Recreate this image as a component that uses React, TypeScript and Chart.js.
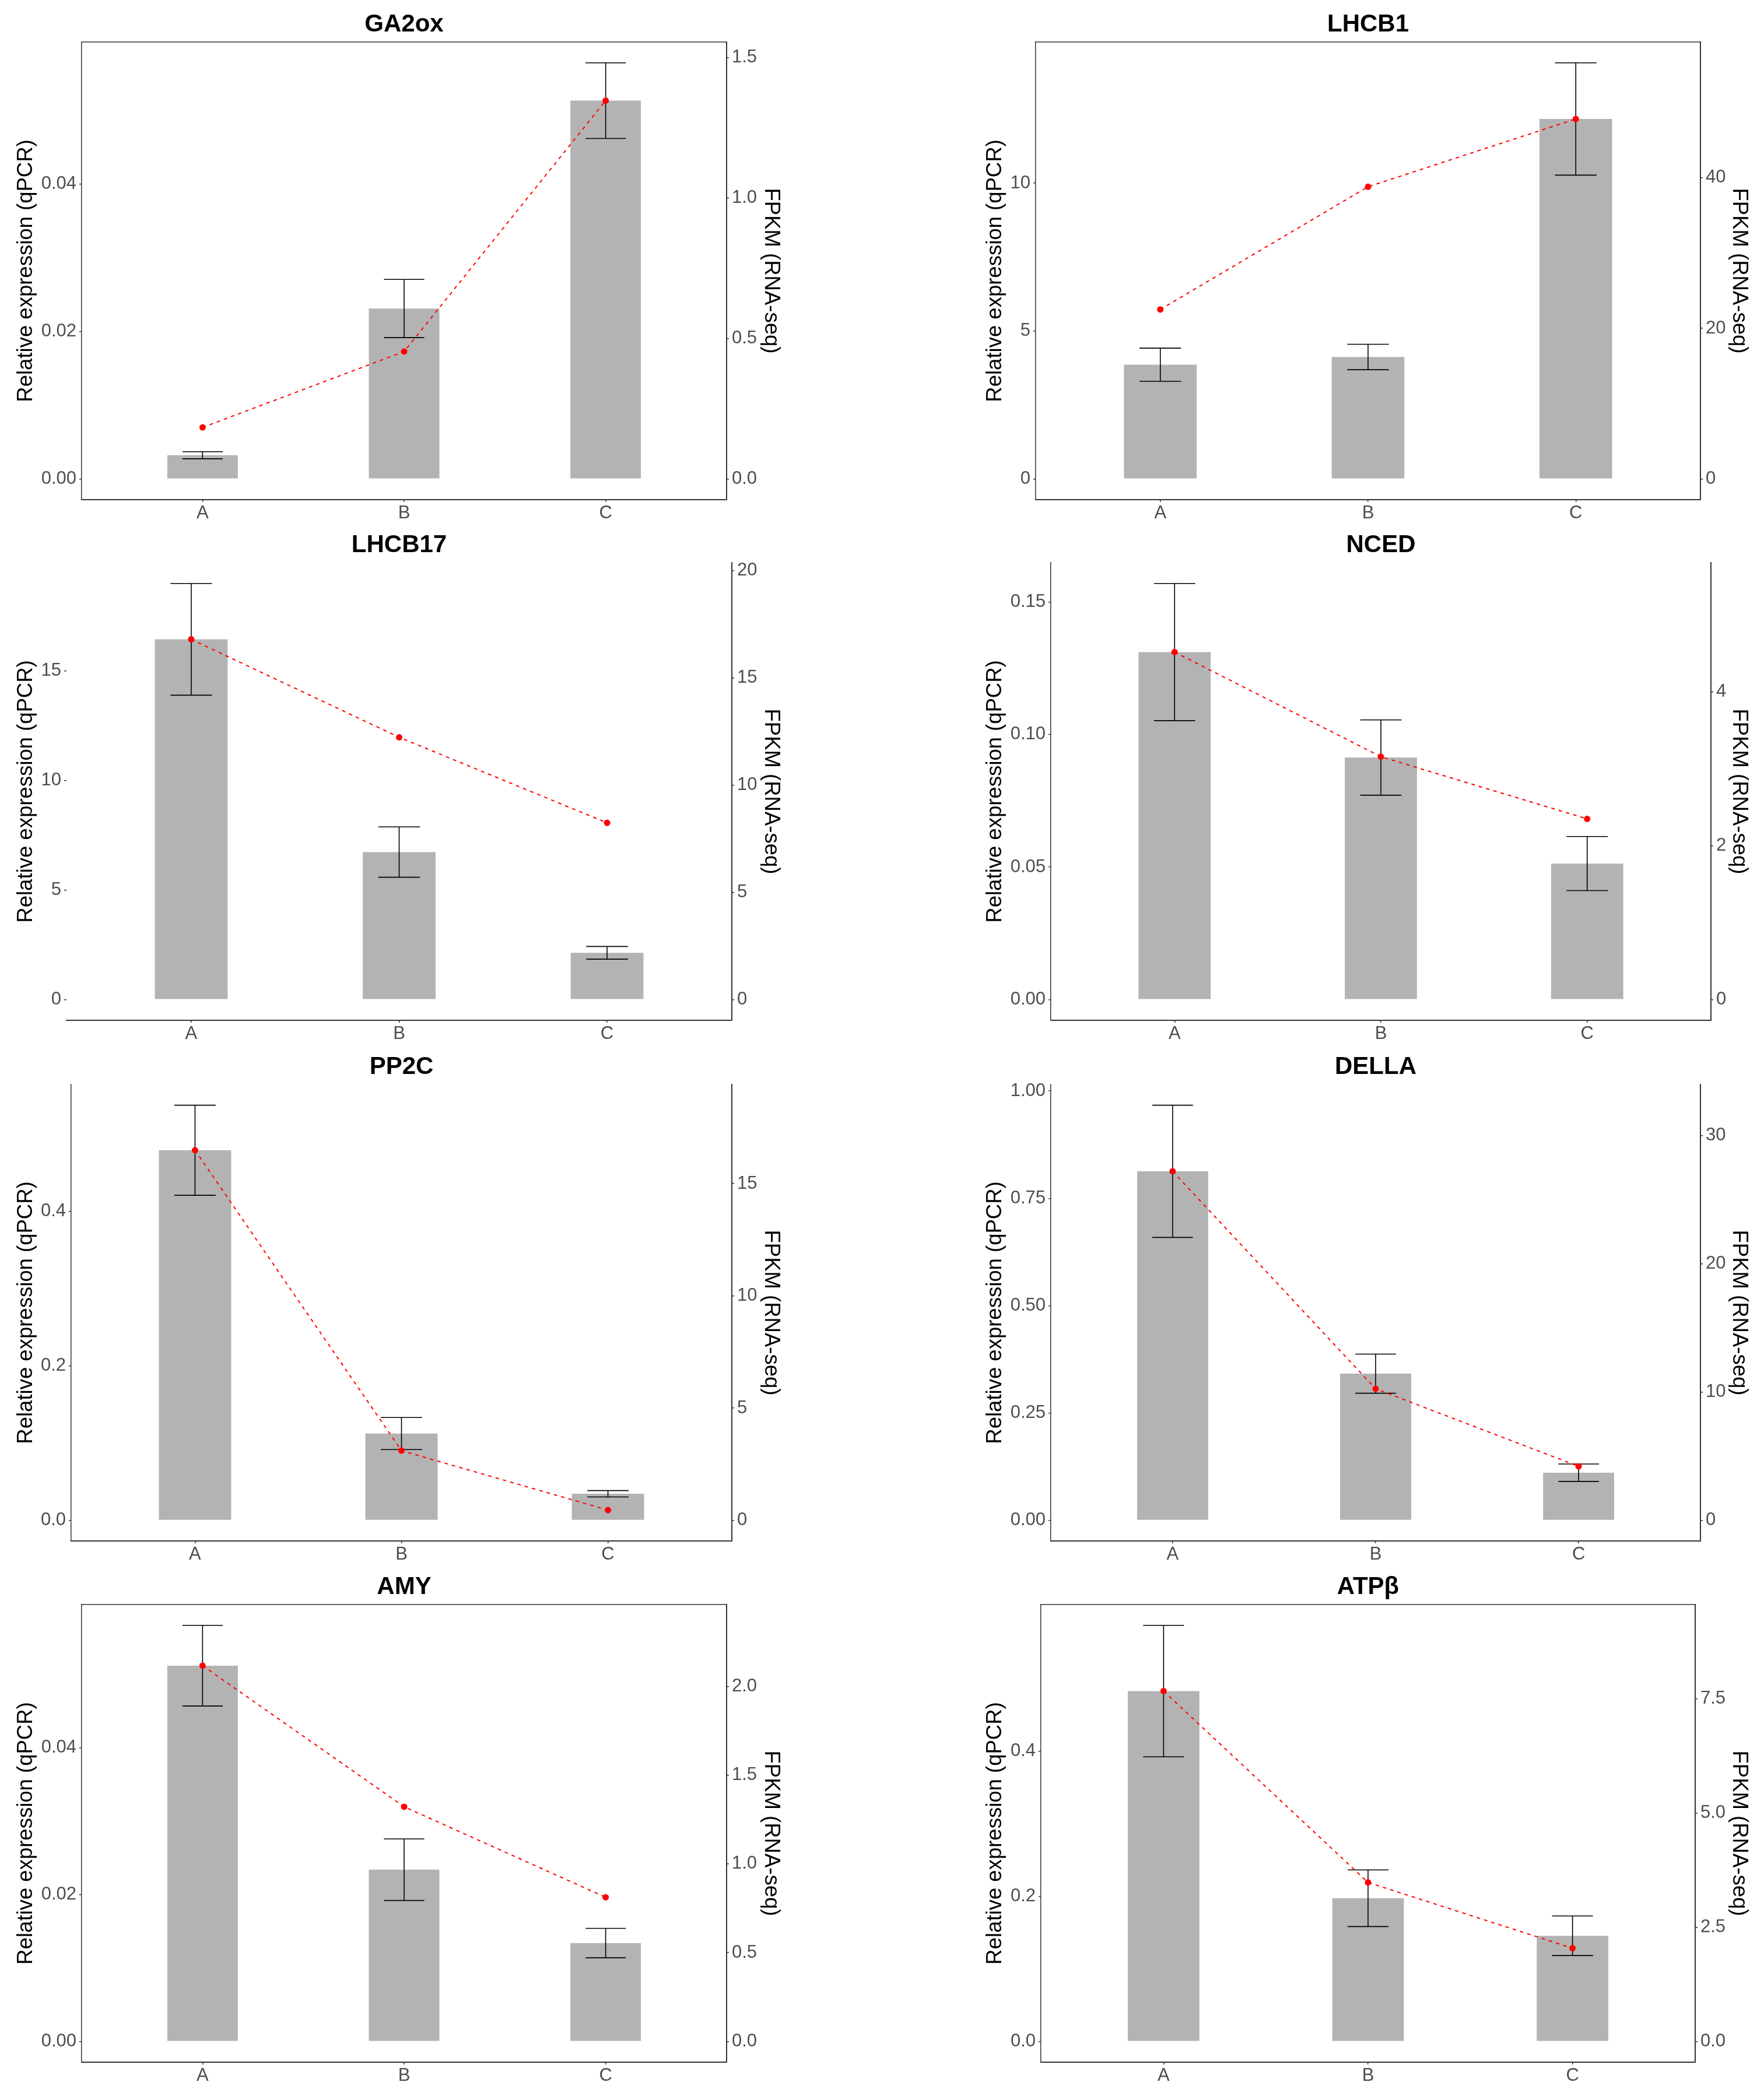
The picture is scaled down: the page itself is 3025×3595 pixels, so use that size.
import { useEffect, useRef } from 'react';
import { Chart, registerables } from 'chart.js';

Chart.register(...registerables);
Chart.defaults.font.family = '"Liberation Sans", Arial, sans-serif';

const categories = ['A', 'B', 'C'];
const genes = ['GA2ox', 'LHCB1', 'LHCB17', 'NCED', 'PP2C', 'DELLA', 'AMY', 'ATPβ'];

// qPCR relative expression (bars) and its SD (error bars), one row per gene
const qpcrMean = [
    [0.0032, 0.0231, 0.0513],
    [3.86, 4.12, 12.17],
    [16.44, 6.73, 2.13],
    [0.1311, 0.0913, 0.0513],
    [0.4789, 0.1122, 0.0342],
    [0.8129, 0.3414, 0.1107],
    [0.0512, 0.0234, 0.0134],
    [0.4826, 0.1972, 0.1455],
];
const qpcrSd = [
    [0.00048, 0.00395, 0.00513],
    [0.56, 0.43, 1.9],
    [2.55, 1.15, 0.29],
    [0.0259, 0.0142, 0.0102],
    [0.0583, 0.0208, 0.0041],
    [0.154, 0.0456, 0.0203],
    [0.0055, 0.0042, 0.002],
    [0.0906, 0.039, 0.0273],
];
// RNA-seq FPKM (red dashed line, right axis)
const fpkm = [
    [0.183, 0.453, 1.346],
    [22.5, 38.8, 47.8],
    [16.8, 12.23, 8.24],
    [4.517, 3.157, 2.348],
    [16.49, 3.1, 0.45],
    [27.21, 10.25, 4.2],
    [2.117, 1.322, 0.812],
    [7.67, 3.48, 2.04],
];
const leftTicks = [
    [0, 0.02, 0.04],
    [0, 5, 10],
    [0, 5, 10, 15],
    [0, 0.05, 0.1, 0.15],
    [0, 0.2, 0.4],
    [0, 0.25, 0.5, 0.75, 1],
    [0, 0.02, 0.04],
    [0, 0.2, 0.4],
];
const rightTicks = [
    [0, 0.5, 1, 1.5],
    [0, 20, 40],
    [0, 5, 10, 15, 20],
    [0, 2, 4],
    [0, 5, 10, 15],
    [0, 10, 20, 30],
    [0, 0.5, 1, 1.5, 2],
    [0, 2.5, 5, 7.5],
];
const leftDigits = [2, 0, 0, 2, 1, 2, 2, 1];
const rightDigits = [1, 0, 0, 0, 0, 0, 1, 1];

// page layout (px)
const colX = [0, 1512];
const colW = [1512, 1513];
const rowY = [0, 893, 1788, 2680];
const rowH = [893, 895, 892, 915];
const plotBottom = [857, 857, 855, 857];
const plotLeft = [140, 264, 114, 290, 122, 290, 140, 273];
const plotRight = [1246, 1404, 1255, 1422, 1255, 1404, 1246, 1395];
const leftLine = [true, true, false, true, true, true, true, true];
const topLine = [true, true, false, false, false, false, true, true];

const axisColor = '#333333';
const tickColor = '#4D4D4D';

function GenePanel({ index }: { index: number }) {
    const chartRef = useRef<HTMLCanvasElement>(null);
    const col = index % 2;
    const row = Math.floor(index / 2);
    const w = colW[col];
    const h = rowH[row];

    useEffect(() => {
        if (!chartRef.current) return;
        const means = qpcrMean[index];
        const sds = qpcrSd[index];
        const seq = fpkm[index];

        // ggplot-like 5% expansion around the bars + error bars
        const upper = Math.max(...means.map((m, i) => m + sds[i]));
        const yMin = -0.05 * upper;
        const yMax = 1.05 * upper;
        // secondary axis: highest FPKM point sits on the highest bar
        const factor = Math.max(...seq) / Math.max(...means);

        const errorBars = {
            id: 'errorBars',
            afterDatasetDraw(chart: any, args: any) {
                if (args.meta.type !== 'bar') return;
                const { ctx } = chart;
                const x = chart.scales.x;
                const y = chart.scales.y;
                ctx.save();
                ctx.strokeStyle = '#000000';
                ctx.lineWidth = 1.6;
                means.forEach((m, i) => {
                    const cx = x.getPixelForValue(i + 1);
                    const half = x.getPixelForValue(i + 1.1) - cx;
                    const top = y.getPixelForValue(m + sds[i]);
                    const bot = y.getPixelForValue(m - sds[i]);
                    ctx.beginPath();
                    ctx.moveTo(cx, top);
                    ctx.lineTo(cx, bot);
                    ctx.moveTo(cx - half, top);
                    ctx.lineTo(cx + half, top);
                    ctx.moveTo(cx - half, bot);
                    ctx.lineTo(cx + half, bot);
                    ctx.stroke();
                });
                ctx.restore();
            },
        };

        const panelTop = {
            id: 'panelTop',
            afterDraw(chart: any) {
                if (!topLine[index]) return;
                const { ctx, chartArea } = chart;
                ctx.save();
                ctx.strokeStyle = axisColor;
                ctx.lineWidth = 1.5;
                ctx.beginPath();
                ctx.moveTo(chartArea.left, chartArea.top);
                ctx.lineTo(chartArea.right, chartArea.top);
                ctx.stroke();
                ctx.restore();
            },
        };

        const tickGrid = {
            display: true,
            drawOnChartArea: false,
            drawTicks: true,
            tickLength: 4,
            color: axisColor,
            tickColor: axisColor,
            lineWidth: 1.5,
        };
        const tickFont = { size: 31 };

        const chart = new Chart(chartRef.current, {
            type: 'bar',
            data: {
                datasets: [
                    {
                        type: 'line',
                        label: 'FPKM (RNA-seq)',
                        data: seq.map((v, i) => ({ x: i + 1, y: v })),
                        yAxisID: 'y2',
                        order: 1,
                        borderColor: '#FF0000',
                        borderWidth: 2,
                        borderDash: [6, 7],
                        pointRadius: 5.5,
                        pointBackgroundColor: '#FF0000',
                        pointBorderWidth: 0,
                        fill: false,
                        tension: 0,
                    } as any,
                    {
                        type: 'bar',
                        label: 'Relative expression (qPCR)',
                        data: means.map((v, i) => ({ x: i + 1, y: v })),
                        yAxisID: 'y',
                        order: 2,
                        backgroundColor: '#B3B3B3',
                        borderWidth: 0,
                        barPercentage: 0.35,
                        categoryPercentage: 1,
                    } as any,
                ],
            },
            options: {
                responsive: true,
                maintainAspectRatio: false,
                animation: false,
                layout: { padding: 0 },
                plugins: {
                    legend: { display: false },
                    tooltip: { enabled: false },
                    title: {
                        display: true,
                        text: genes[index],
                        fullSize: false,
                        color: '#000000',
                        font: { size: 42, weight: 'bold' },
                        padding: { top: 16.8, bottom: 4.8 },
                    },
                },
                scales: {
                    x: {
                        type: 'linear',
                        min: 0.4,
                        max: 3.6,
                        offset: false,
                        afterBuildTicks: (s: any) => {
                            s.ticks = categories.map((_, i) => ({ value: i + 1 }));
                        },
                        afterFit: (s: any) => {
                            s.height = h - plotBottom[row];
                        },
                        ticks: {
                            callback: (v: any) => categories[Number(v) - 1],
                            color: tickColor,
                            font: tickFont,
                            padding: 1,
                            maxRotation: 0,
                            autoSkip: false,
                        },
                        grid: { ...tickGrid, offset: false },
                        border: { display: true, color: axisColor, width: 2 },
                    },
                    y: {
                        type: 'linear',
                        position: 'left',
                        min: yMin,
                        max: yMax,
                        afterBuildTicks: (s: any) => {
                            s.ticks = leftTicks[index].map(v => ({ value: v }));
                        },
                        afterFit: (s: any) => {
                            s.width = plotLeft[index];
                        },
                        ticks: {
                            callback: (v: any) => Number(v).toFixed(leftDigits[index]),
                            color: tickColor,
                            font: tickFont,
                            padding: 5,
                            autoSkip: false,
                        },
                        grid: tickGrid,
                        border: { display: leftLine[index], color: axisColor, width: 1.5 },
                        title: {
                            display: true,
                            text: 'Relative expression (qPCR)',
                            color: '#000000',
                            font: { size: 36.5 },
                            padding: { top: col === 0 ? 22.8 : 173.4, bottom: 0 },
                        },
                    },
                    y2: {
                        type: 'linear',
                        position: 'right',
                        min: yMin * factor,
                        max: yMax * factor,
                        afterBuildTicks: (s: any) => {
                            s.ticks = rightTicks[index].map(v => ({ value: v }));
                        },
                        afterFit: (s: any) => {
                            s.width = w - plotRight[index];
                        },
                        ticks: {
                            callback: (v: any) => Number(v).toFixed(rightDigits[index]),
                            color: tickColor,
                            font: tickFont,
                            padding: 5,
                            autoSkip: false,
                        },
                        grid: tickGrid,
                        border: { display: true, color: axisColor, width: 2 },
                        title: {
                            display: true,
                            text: 'FPKM (RNA-seq)',
                            color: '#000000',
                            font: { size: 36.5 },
                            padding: { top: col === 0 ? 167.8 : 20.8, bottom: 0 },
                        },
                    },
                },
            } as any,
            plugins: [errorBars, panelTop],
        });

        return () => {
            chart.destroy();
        };
    }, [index]);

    return (
        <div
            style={{
                position: 'absolute',
                left: colX[col],
                top: rowY[row],
                width: w,
                height: h,
            }}
        >
            <canvas ref={chartRef} />
        </div>
    );
}

export default function App() {
    return (
        <div
            style={{
                position: 'absolute',
                left: 0,
                top: 0,
                width: 3025,
                height: 3595,
                background: '#ffffff',
                overflow: 'hidden',
            }}
        >
            {genes.map((g, i) => (
                <GenePanel key={g} index={i} />
            ))}
        </div>
    );
}
